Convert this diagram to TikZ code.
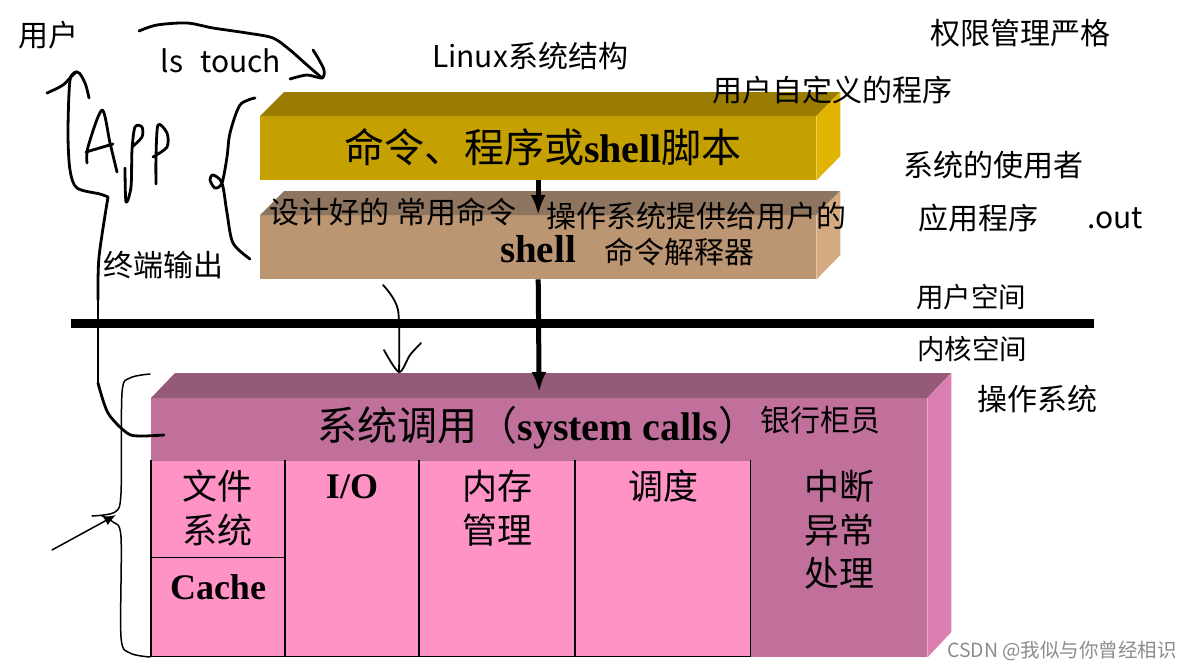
\documentclass[tikz,border=0pt]{standalone}
\usepackage{fontspec}
\setmainfont{Liberation Serif}
\newfontfamily\cjk{Noto Sans CJK SC}
\newfontfamily\lat{Liberation Serif}
\usetikzlibrary{arrows.meta}
\definecolor{cmdfront}{HTML}{C4A000}
\definecolor{cmdtop}{HTML}{9A7D00}
\definecolor{cmdside}{HTML}{E0B400}
\definecolor{shfront}{HTML}{BC9672}
\definecolor{shtop}{HTML}{8E7560}
\definecolor{shside}{HTML}{D6AA80}
\definecolor{osfront}{HTML}{C0709A}
\definecolor{ostop}{HTML}{955A78}
\definecolor{osside}{HTML}{DB7FB0}
\definecolor{cellpink}{HTML}{FF93C6}
\begin{document}
\begin{tikzpicture}[
    x=1pt, y=-1pt,
    front/.style={anchor=north west, inner sep=0pt, minimum width=556pt, minimum height=64pt},
    cell/.style={fill=cellpink, anchor=north west, inner sep=0pt},
    rule/.style={line width=1.7pt, line cap=rect},
    note/.style={inner sep=0pt, font=\cjk\fontsize{30}{34}\selectfont},
    small/.style={inner sep=0pt, font=\cjk\fontsize{27.5}{32}\selectfont},
    title/.style={inner sep=0pt, font=\cjk\fontsize{40}{46}\selectfont},
    item/.style={inner sep=0pt, font=\cjk\fontsize{35}{40}\selectfont},
    bold/.style={inner sep=0pt, font=\bfseries\fontsize{36}{40}\selectfont},
    arrow/.style={-{Latex[length=20pt,width=15pt]}, line width=5pt},
    pen/.style={line width=2.8pt, line cap=round, line join=round},
    thin/.style={line width=1.5pt, line cap=round}
]
    \useasboundingbox (0,0) rectangle (1193,670);
    \fill[white] (0,0) rectangle (1193,670);

    % upper boxes
    \node[front, fill=cmdfront] (cmd) at (260,116) {};
    \fill[cmdtop] (cmd.north west) -- ++(24,-24) -- ++(556,0) -- (cmd.north east) -- cycle;
    \fill[cmdside] (cmd.north east) -- ++(24,-24) -- ++(0,64) -- (cmd.south east) -- cycle;
    \node[front, fill=shfront] (sh) at (260,215) {};
    \fill[shtop] (sh.north west) -- ++(24,-24) -- ++(556,0) -- (sh.north east) -- cycle;
    \fill[shside] (sh.north east) -- ++(24,-24) -- ++(0,64) -- (sh.south east) -- cycle;

    % lower box
    \node[front, fill=osfront, minimum width=776pt, minimum height=259pt] (os) at (151,398) {};
    \fill[ostop] (os.north west) -- ++(24,-25) -- ++(776,0) -- (os.north east) -- cycle;
    \fill[osside] (os.north east) -- ++(24,-25) -- ++(0,259) -- (os.south east) -- cycle;
    \node[cell, minimum width=134pt, minimum height=96pt] (fs) at (151,461) {};
    \node[cell, minimum width=134pt, minimum height=99pt] (cache) at (151,557) {};
    \node[cell, minimum width=134pt, minimum height=195pt] (io) at (285,461) {};
    \node[cell, minimum width=156pt, minimum height=195pt] (mem) at (419,461) {};
    \node[cell, minimum width=175pt, minimum height=195pt] (sched) at (575,461) {};
    \draw[rule] (fs.north west) -- (cache.south west) -- (sched.south east) -- (sched.north east);
    \draw[rule] (fs.south west) -- (fs.south east);
    \draw[rule] (io.north west) -- (io.south west);
    \draw[rule] (mem.north west) -- (mem.south west);
    \draw[rule] (sched.north west) -- (sched.south west);

    % divider
    \coordinate (divl) at (71,323);
    \coordinate (divr) at (1094,323);
    \draw[line width=9pt] (divl) -- (divr);

    \draw[arrow] (cmd.south) -- (sh.north);
    \draw[arrow, shorten >=6pt] (sh.south) -- (os.north);

    % box texts
    \node[title] (cmdtxt) at (543,147) {命令、程序或{\lat\bfseries shell}脚本};
    \node[note] (t1) at (393,212) {设计好的 常用命令};
    \node[note] (t2) at (696,216) {操作系统提供给用户的};
    \node[bold, font=\bfseries\fontsize{39}{42}\selectfont] (shtxt) at (538,249) {shell};
    \node[note] (t3) at (679,252) {命令解释器};
    \node[title] (calltxt) at (538,428) {系统调用（{\lat\bfseries system calls}）};
    \node[note] (t4) at (820,420) {银行柜员};
    \node[item] (fs1) at (217,486) {文件};
    \node[item] (fs2) at (217,530) {系统};
    \node[bold] (cachetxt) at (218,587) {Cache};
    \node[bold] (iotxt) at (352,487) {I/O};
    \node[item] (mem1) at (497,486) {内存};
    \node[item] (mem2) at (497,530) {管理};
    \node[item] (schedtxt) at (663,486) {调度};
    \node[item] (irq1) at (839,486) {中断};
    \node[item] (irq2) at (839,530) {异常};
    \node[item] (irq3) at (839,573) {处理};

    % notes around
    \node[note] (user) at (48,35) {用户};
    \node[note] (lstouch) at (221,61) {ls\hspace{17pt}touch};
    \node[note] (title) at (530,56) {Linux系统结构};
    \node[note] (strict) at (1020,33) {权限管理严格};
    \node[note] (custom) at (832,90) {用户自定义的程序};
    \node[note] (people) at (993,165) {系统的使用者};
    \node[note] (apps) at (978,218) {应用程序};
    \node[note] (out) at (1115,218) {.out};
    \node[small] (uspace) at (971,297) {用户空间};
    \node[small] (kspace) at (972,349) {内核空间};
    \node[note] (osname) at (1037,399) {操作系统};
    \node[note] (term) at (163,265) {终端输出};
    \node[inner sep=0pt, text=black!45, font=\cjk\fontsize{19.5}{22}\selectfont] (mark) at (1062,651) {CSDN @我似与你曾经相识};

    % hand strokes
    \draw[pen] plot[smooth] coordinates {(139,31) (157,25) (187,23) (213,28) (247,33) (273,38) (290,50) (307,65) (322,78)};
    \draw[pen] plot[smooth] coordinates {(290,79) (307,75) (322,78) (324,70) (318,58) (313,50)};
    \draw[pen] plot[smooth] coordinates {(98,383) (108,413) (127,433) (140,436) (164,435)};
    \draw[pen] (98,280) -- (98,383);
    \draw[pen] plot[smooth] coordinates {(98,300) (99,257) (108,197)};
    \draw[pen] plot[smooth] coordinates {(108,197) (100,194) (77,188) (70,170) (68,133) (70,80) (77,72)};
    \draw[pen] plot[smooth] coordinates {(47,93) (63,85) (77,72) (85,83) (89,98)};
    \draw[pen] plot[smooth] coordinates {(87,163) (88,147) (102,110) (110,143) (117,172)};
    \draw[pen] (86,152) -- (113,144);
    \draw[pen] plot[smooth] coordinates {(125,168) (126,202) (131,187) (132,150) (135,127) (142,127) (142,137) (132,147)};
    \draw[pen] plot[smooth] coordinates {(156,184) (156,157) (158,125) (167,133) (167,147) (153,157)};
    \draw[pen] plot[smooth] coordinates {(255,98) (240,105) (230,133) (227,157) (222,183) (215,188) (210,180) (213,175) (222,183) (227,213) (233,243) (250,259)};
    \draw[pen, line width=1.8pt] plot[smooth] coordinates {(383,285) (398,310) (399,372)};
    \draw[pen, line width=1.8pt] plot[smooth] coordinates {(384,350) (399,372) (410,355) (421,343)};
    \draw[thin] plot[smooth] coordinates {(150,374) (130,378) (122,393) (121,493) (115,512) (92,516)};
    \draw[thin] plot[smooth] coordinates {(102,516) (113,522) (121,537) (121,637) (130,653) (150,657)};
    \coordinate (tail) at (52,550);
    \coordinate (tip) at (116,515);
    \draw[thin, -{Latex[length=12pt,width=10pt]}] (tail) -- (tip);
\end{tikzpicture}
\end{document}
